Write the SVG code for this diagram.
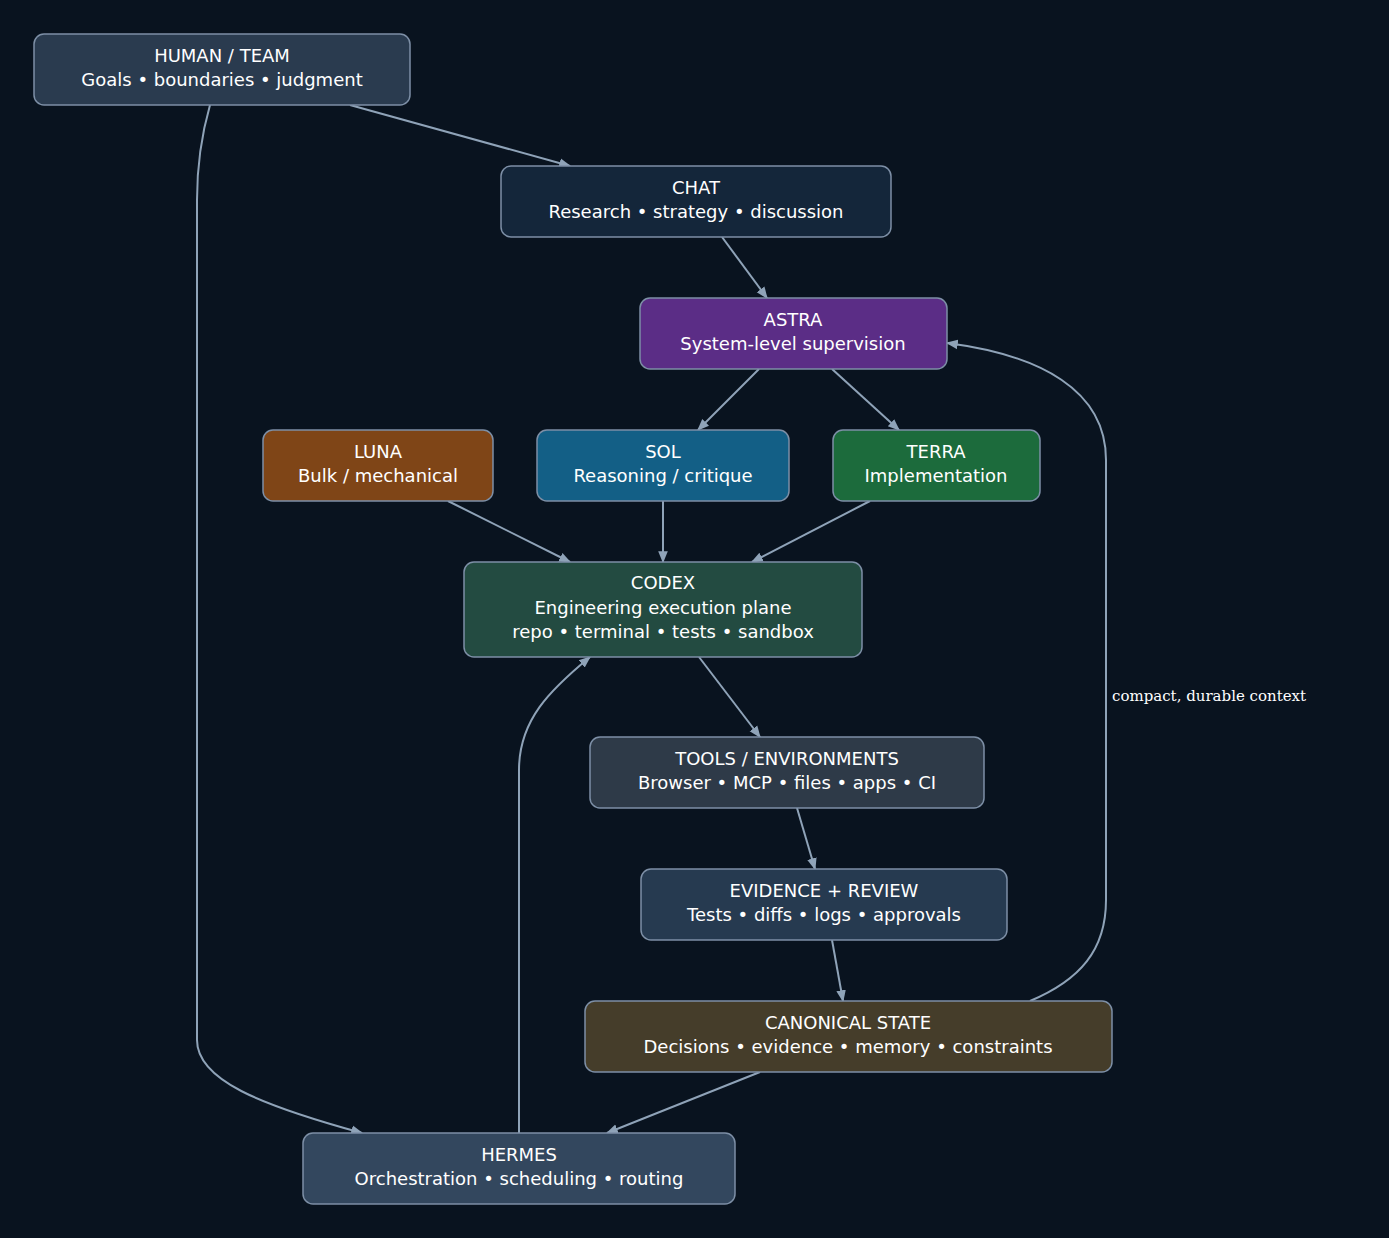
<svg xmlns="http://www.w3.org/2000/svg" width="1389" height="1238" viewBox="0 0 1389 1238">
<style>
.n rect{stroke:#7d8fa6;stroke-width:1.5}
.n text{font-family:"DejaVu Sans",sans-serif;font-size:18px;fill:#ffffff;text-anchor:middle}
.e path{fill:none;stroke:#8fa3b8;stroke-width:2;marker-end:url(#a)}
.lbl{font-family:"DejaVu Serif","Liberation Serif",serif;font-size:15px;fill:#ffffff}
</style>
<defs><marker id="a" viewBox="0 0 10 10" refX="9" refY="5" markerWidth="6" markerHeight="6" orient="auto" markerUnits="strokeWidth"><path d="M0,1 L10,5 L0,9 z" fill="#8fa3b8"/></marker></defs>
<rect width="1389" height="1238" fill="#09131f"/>
<g class="e" id="edges">
<path d="M350,105 L570,166"/>
<path d="M210,105 C200,140 197,170 197,200 L197,1040 C197,1080 260,1105 362,1133"/>
<path d="M722,237 L767,298"/>
<path d="M759,369 L698,430"/>
<path d="M832,369 L899,430"/>
<path d="M448,501 L570,562"/>
<path d="M663,501 L663,562"/>
<path d="M870,501 L752,562"/>
<path d="M699,657 L760,737"/>
<path d="M797,808 L815,869"/>
<path d="M832,940 L843,1001"/>
<path d="M760,1072 L607,1133"/>
<path d="M519,1133 L519,770 C519,720 550,690 590,657"/>
<path d="M1030,1001 C1080,980 1106,950 1106,900 L1106,460 C1106,390 1040,355 947,343"/>
<text class="lbl" x="1112" y="701">compact, durable context</text>
</g>
<g class="n" id="human"><rect x="34" y="34" width="376" height="71" rx="10" fill="#2a3b4f"/><text x="222" y="62">HUMAN / TEAM</text><text x="222" y="86">Goals • boundaries • judgment</text></g>
<g class="n" id="chat"><rect x="501" y="166" width="390" height="71" rx="10" fill="#14263a"/><text x="696" y="194">CHAT</text><text x="696" y="218">Research • strategy • discussion</text></g>
<g class="n" id="astra"><rect x="640" y="298" width="307" height="71" rx="10" fill="#5b2d86"/><text x="793" y="326">ASTRA</text><text x="793" y="350">System-level supervision</text></g>
<g class="n" id="luna"><rect x="263" y="430" width="230" height="71" rx="10" fill="#7f4517"/><text x="378" y="458">LUNA</text><text x="378" y="482">Bulk / mechanical</text></g>
<g class="n" id="sol"><rect x="537" y="430" width="252" height="71" rx="10" fill="#135f86"/><text x="663" y="458">SOL</text><text x="663" y="482">Reasoning / critique</text></g>
<g class="n" id="terra"><rect x="833" y="430" width="207" height="71" rx="10" fill="#1c6b3c"/><text x="936" y="458">TERRA</text><text x="936" y="482">Implementation</text></g>
<g class="n" id="codex"><rect x="464" y="562" width="398" height="95" rx="10" fill="#234b41"/><text x="663" y="589">CODEX</text><text x="663" y="614">Engineering execution plane</text><text x="663" y="638">repo • terminal • tests • sandbox</text></g>
<g class="n" id="tools"><rect x="590" y="737" width="394" height="71" rx="10" fill="#2e3a48"/><text x="787" y="765">TOOLS / ENVIRONMENTS</text><text x="787" y="789">Browser • MCP • files • apps • CI</text></g>
<g class="n" id="evidence"><rect x="641" y="869" width="366" height="71" rx="10" fill="#263a50"/><text x="824" y="897">EVIDENCE + REVIEW</text><text x="824" y="921">Tests • diffs • logs • approvals</text></g>
<g class="n" id="canon"><rect x="585" y="1001" width="527" height="71" rx="10" fill="#453d2a"/><text x="848" y="1029">CANONICAL STATE</text><text x="848" y="1053">Decisions • evidence • memory • constraints</text></g>
<g class="n" id="hermes"><rect x="303" y="1133" width="432" height="71" rx="10" fill="#33475e"/><text x="519" y="1161">HERMES</text><text x="519" y="1185">Orchestration • scheduling • routing</text></g>
</svg>
